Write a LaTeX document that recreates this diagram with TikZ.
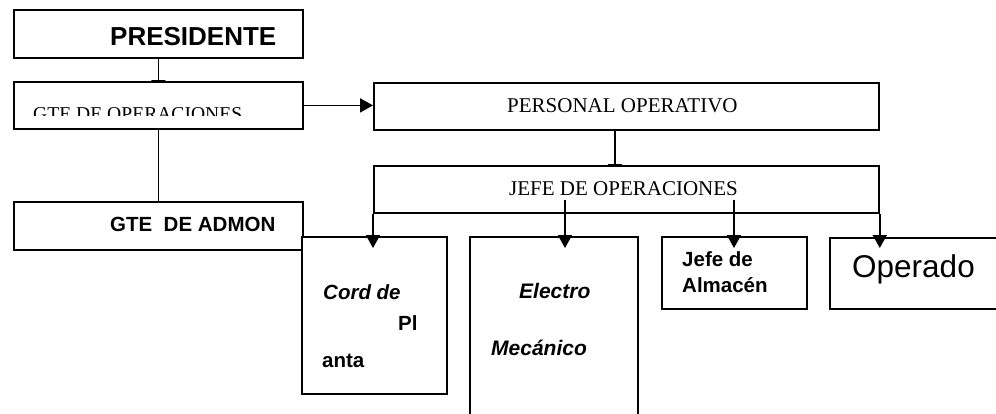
\documentclass[tikz,border=0pt]{standalone}
\usepackage{fontspec}
\setmainfont{Liberation Serif}
\setsansfont{Liberation Sans}
\usetikzlibrary{arrows.meta,calc}
\pgfdeclarelayer{background}
\pgfsetlayers{background,main}
\begin{document}
\begin{tikzpicture}[x=1pt,y=-1pt,
  box/.style={draw, fill=white, line width=1.8pt, inner sep=0pt, anchor=north west},
  txt/.style={inner sep=0pt, anchor=base west},
  conn/.style={line width=1.8pt},
  arr/.style={line width=1.8pt, -{Triangle[width=14pt,length=13pt]}},
  serifA/.style={font=\rmfamily\fontsize{21}{24}\selectfont},
  sansB/.style={font=\sffamily\bfseries\fontsize{20.5}{24}\selectfont},
  sansBI/.style={font=\sffamily\bfseries\itshape\fontsize{20.5}{24}\selectfont}]
\useasboundingbox (0,0) rectangle (996,413);
% boxes
\node[box, minimum width=289pt, minimum height=48pt] (pres) at (13,9) {};
\node[box, minimum width=289pt, minimum height=47pt] (gteops) at (13,81) {};
\node[box, minimum width=505pt, minimum height=47pt] (po) at (373,82) {};
\node[box, minimum width=505pt, minimum height=47pt] (jefe) at (373,165) {};
\node[box, minimum width=289pt, minimum height=48pt] (admon) at (13,201) {};
\node[box, minimum width=145pt, minimum height=157pt] (cord) at (301,236) {};
\node[box, minimum width=168pt, minimum height=200pt] (electro) at (469,236) {};
\node[box, minimum width=145pt, minimum height=72pt] (alm) at (661,236) {};
\node[box, minimum width=190pt, minimum height=71pt] (oper) at (829,237) {};
% hidden-tip connectors
\begin{pgfonlayer}{background}
\fill[white] (0,0) rectangle (996,413);
\draw[arr] (pres.south) -- ($(gteops.north)+(0,12)$);
\draw[arr] ([xshift=-11.5pt]po.south) -- ($([xshift=-11.5pt]po.south |- jefe.north)+(0,12)$);
\end{pgfonlayer}
% texts
\node[txt, font=\sffamily\bfseries\fontsize{26}{30}\selectfont] (tpres) at (110,45) {PRESIDENTE};
\begin{scope}
\clip (13,81) rectangle (302,115.5);
\node[txt, font=\rmfamily\fontsize{19.6}{22}\selectfont] (tgteops) at (33,120) {GTE DE OPERACIONES};
\end{scope}
\node[txt, serifA] (tpo) at (507,112) {PERSONAL OPERATIVO};
\node[txt, serifA] (tjefe) at (509,195) {JEFE DE OPERACIONES};
\node[txt, sansB] (tadmon) at (110,231) {GTE\ \ DE ADMON};
\node[txt, sansBI] (tcord1) at (323,299) {Cord de};
\node[txt, sansB] (tcord2) at (398,330) {Pl};
\node[txt, sansB] (tcord3) at (322,367) {anta};
\node[txt, font=\sffamily\bfseries\itshape\fontsize{21}{24}\selectfont] (tel1) at (519,298) {Electro};
\node[txt, font=\sffamily\bfseries\itshape\fontsize{21}{24}\selectfont] (tel2) at (491,355) {Mecánico};
\node[txt, sansB] (talm1) at (682,266) {Jefe de};
\node[txt, sansB] (talm2) at (682,292) {Almacén};
\node[txt, font=\sffamily\fontsize{31.5}{36}\selectfont] (toper) at (852,277) {Operado};
% visible connectors
\coordinate (e1) at (565,200);
\coordinate (a1) at (734,200);
\draw[conn] (gteops.south) -- (admon.north);
\draw[arr] (gteops.east) -- (gteops.east -| po.west);
\draw[arr] (jefe.south west) -- ($(jefe.south west |- cord.north)+(0,12)$);
\draw[arr] (e1) -- ($(e1 |- electro.north)+(0,12)$);
\draw[arr] (a1) -- ($(a1 |- alm.north)+(0,12)$);
\draw[arr] (jefe.south east) -- ($(jefe.south east |- oper.north)+(0,11)$);
\end{tikzpicture}
\end{document}
